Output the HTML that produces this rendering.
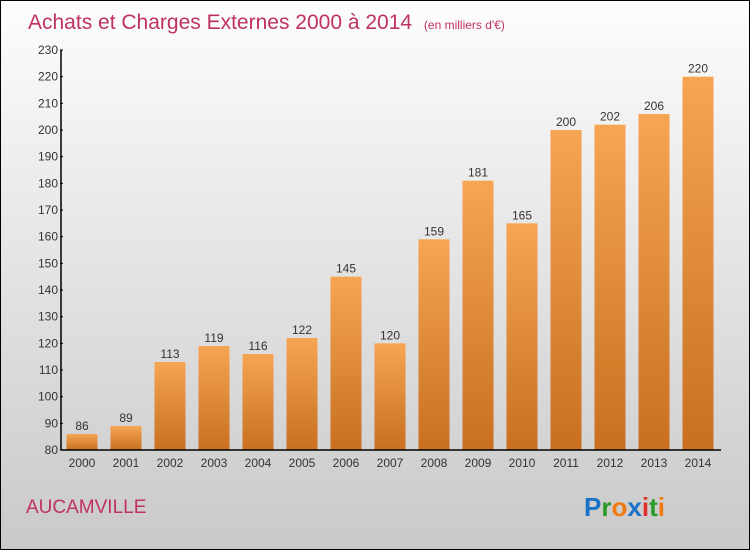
<!DOCTYPE html>
<html><head><meta charset="utf-8"><style>
body{margin:0}
#c{position:relative;width:748px;height:548px;border:1px solid #000;background:linear-gradient(#fdfdfd,#c9c9c9);overflow:hidden;font-family:"Liberation Sans",sans-serif}
</style></head><body>
<div id="c">
<svg width="748" height="548" style="position:absolute;left:0;top:0">
<defs><linearGradient id="g" x1="0" y1="0" x2="0" y2="1"><stop offset="0" stop-color="#f6a552"/><stop offset="1" stop-color="#c8701f"/></linearGradient></defs>
<text x="27" y="28" font-size="21" fill="#c0325e">Achats et Charges Externes 2000 à 2014 <tspan font-size="12" dx="6">(en milliers d'€)</tspan></text>
<g id="plot"></g>
<text x="25" y="512" font-size="19" fill="#c0325e">AUCAMVILLE</text>
<text x="583" y="515" font-size="26" font-weight="bold"><tspan fill="#1a73c8">P</tspan><tspan fill="#2a9a2a">r</tspan><tspan fill="#f07a10">o</tspan><tspan fill="#1a73c8">x</tspan><tspan fill="#e0302a">i</tspan><tspan fill="#2a9a2a">t</tspan><tspan fill="#f07a10">i</tspan></text>
</svg>
</div>
<script>
const years=["2000","2001","2002","2003","2004","2005","2006","2007","2008","2009","2010","2011","2012","2013","2014"];
const values=[86,89,113,119,116,122,145,120,159,181,165,200,202,206,220];
const yTicks=[80,90,100,110,120,130,140,150,160,170,180,190,200,210,220,230];
const ns="http://www.w3.org/2000/svg";
const g=document.getElementById('plot');
const y=v=>449-(v-80)*400/150;
const x=i=>81+i*44;
function mk(t,a){const e=document.createElementNS(ns,t);for(const k in a)e.setAttribute(k,a[k]);g.appendChild(e);return e;}
values.forEach((v,i)=>{
 const r=mk('rect',{x:x(i)-15.5,y:y(v),width:31,height:y(80)-y(v),fill:'url(#g)'});
 
 
 const t=mk('text',{x:x(i),y:y(v)-4,'font-size':12,'text-anchor':'middle',fill:'#333'});
 t.textContent=v;
 
 
 const l=mk('text',{x:x(i),y:466,'font-size':12,'text-anchor':'middle',fill:'#333'});
 l.textContent=years[i];
 
 
});
yTicks.forEach(v=>{
 mk('line',{x1:59,x2:62,y1:y(v),y2:y(v),stroke:'#000'});
 const t=mk('text',{x:57,y:y(v)+4,'font-size':12,'text-anchor':'end',fill:'#333'});
 t.textContent=v;
 
 
});
const ya=mk('line',{x1:60,x2:60,y1:y(230),y2:y(80),stroke:'#000','stroke-width':1.5});


const xa=mk('line',{x1:60,x2:720,y1:y(80),y2:y(80),stroke:'#000','stroke-width':1.5});


</script>
</body></html>
